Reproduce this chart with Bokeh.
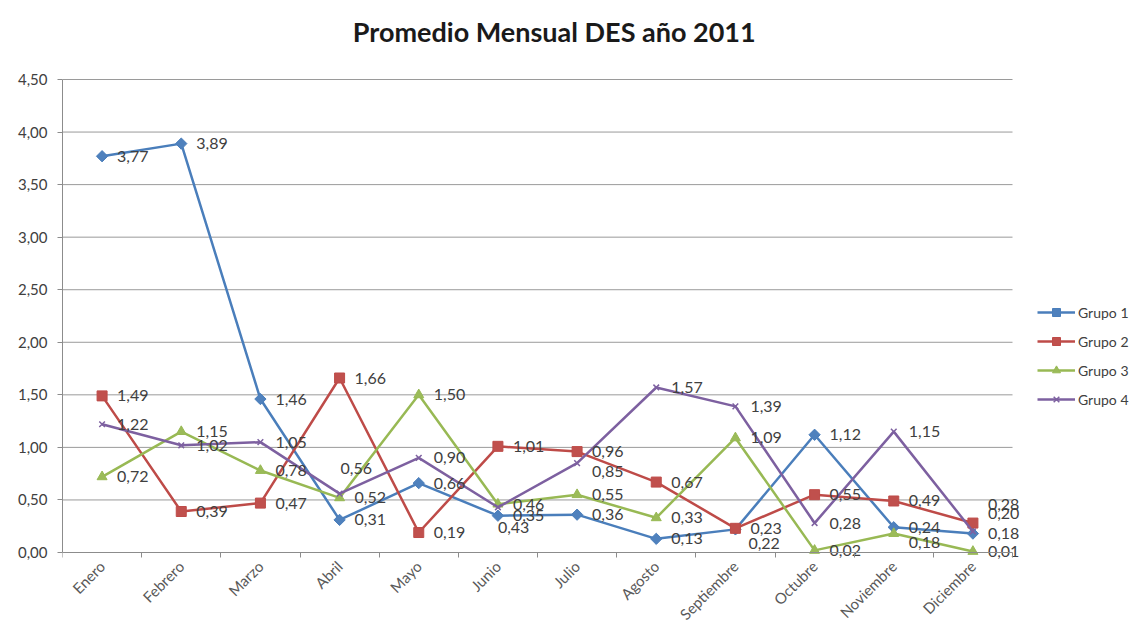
import numpy as np
from bokeh.plotting import figure
from bokeh.models import (Range1d, FixedTicker, CustomJSTickFormatter, Legend,
                          LegendItem, ColumnDataSource, Label)
from bokeh.core.properties import value
from bokeh.embed import file_html
from bokeh.resources import INLINE

# ---------------- data ----------------
meses = ["Enero", "Febrero", "Marzo", "Abril", "Mayo", "Junio", "Julio",
         "Agosto", "Septiembre", "Octubre", "Noviembre", "Diciembre"]
grupo1 = [3.77, 3.89, 1.46, 0.31, 0.66, 0.35, 0.36, 0.13, 0.22, 1.12, 0.24, 0.18]
grupo2 = [1.49, 0.39, 0.47, 1.66, 0.19, 1.01, 0.96, 0.67, 0.23, 0.55, 0.49, 0.28]
grupo3 = [0.72, 1.15, 0.78, 0.52, 1.50, 0.46, 0.55, 0.33, 1.09, 0.02, 0.18, 0.01]
grupo4 = [1.22, 1.02, 1.05, 0.56, 0.90, 0.43, 0.85, 1.57, 1.39, 0.28, 1.15, 0.20]
series_names = ["Grupo 1", "Grupo 2", "Grupo 3", "Grupo 4"]
y_ticks = [0.0, 0.5, 1.0, 1.5, 2.0, 2.5, 3.0, 3.5, 4.0, 4.5]
y_tick_labels = ["0,00", "0,50", "1,00", "1,50", "2,00", "2,50", "3,00",
                 "3,50", "4,00", "4,50"]
titulo = "Promedio  Mensual DES año 2011"

# ---------------- styles ----------------
line_colors = ["#4A7EBB", "#BE4B48", "#98B954", "#7D60A0"]
fill_colors = ["#4F81BD", "#C0504D", "#9BBB59", "#8064A2"]
markers = ["square", "square", "triangle", "x"]
marker_sizes = [8, 10, 10, 8]
marker_angles = [np.pi / 4, 0, 0, 0]
# label offsets (pixels) for overlapping labels: {series: {index: (dx, dy)}}
label_shift = {
    0: {8: (13, 14)},
    2: {10: (15, 9)},
    3: {3: (1, -25), 5: (0, 20), 6: (15, 8), 11: (15, -18)},
    1: {11: (15, -19)},
}
FONT = "Lato"
TXT = "#404040"
GRID = "#9a9a9a"

n = len(meses)
PLOT_W = 950            # pixel width of the category area
PLOT_H = 473            # pixel height of the value area (0 .. 4.5)
BOTTOM = 76             # pixels below the value area (month labels)
FRAME_W = 1135 - 62     # frame runs to the right edge (legend, labels)
FRAME_H = 628           # frame covers the full height (title, month labels)
y_per_px = y_ticks[-1] / PLOT_H
y_bottom = -BOTTOM * y_per_px
y_top = (FRAME_H - BOTTOM) * y_per_px

p = figure(frame_width=FRAME_W, frame_height=FRAME_H, width=1135, height=628,
           min_border_left=62, min_border_right=0, min_border_top=0,
           min_border_bottom=0, output_backend="svg", toolbar_location=None,
           x_range=Range1d(0, n * FRAME_W / PLOT_W),
           y_range=Range1d(y_bottom, y_top))
p.background_fill_color = "white"
p.border_fill_color = "white"
p.outline_line_color = None

# title as a label inside the (extended) frame
title_lbl = Label(x=n * (557 - 62) / PLOT_W, y=(552 - 31) * y_per_px,
                  text=titulo, text_font=FONT, text_font_style="bold",
                  text_font_size="27px", text_color="#1a1a1a",
                  text_align="center", text_baseline="middle")
p.add_layout(title_lbl)

# x axis (numeric index, labels at centers, ticks at boundaries), sits at y = 0
xs = [i + 0.5 for i in range(n)]
p.xaxis.fixed_location = y_ticks[0]
p.xaxis.ticker = FixedTicker(ticks=xs, minor_ticks=list(range(n + 1)))
p.xaxis.bounds = (0, n)
p.xaxis.formatter = CustomJSTickFormatter(args=dict(names=meses),
                                          code="return names[Math.round(tick - 0.5)];")
p.xaxis.major_label_orientation = np.pi / 4
p.xaxis.major_tick_out = 0
p.xaxis.major_tick_in = 0
p.xaxis.minor_tick_out = 5
p.xaxis.minor_tick_in = 0
p.xaxis.minor_tick_line_color = "#8c8c8c"
p.xaxis.axis_line_color = "#8c8c8c"
p.xaxis.major_label_text_font = FONT
p.xaxis.major_label_text_font_size = "15px"
p.xaxis.major_label_text_color = "#595959"
p.xaxis.major_label_standoff = 6
p.xgrid.visible = False

p.yaxis.ticker = FixedTicker(ticks=y_ticks, minor_ticks=[])
p.yaxis.bounds = (y_ticks[0], y_ticks[-1])
p.yaxis.formatter = CustomJSTickFormatter(args=dict(yvals=y_ticks, ylabs=y_tick_labels),
    code="for (let i = 0; i < yvals.length; i++) { if (Math.abs(yvals[i] - tick) < 1e-6) return ylabs[i]; } return '';")
p.yaxis.axis_line_color = "#8c8c8c"
p.yaxis.major_tick_line_color = "#8c8c8c"
p.yaxis.major_tick_out = 5
p.yaxis.major_tick_in = 0
p.yaxis.major_label_text_font = FONT
p.yaxis.major_label_text_font_size = "15px"
p.yaxis.major_label_text_color = TXT
p.yaxis.major_label_standoff = 10
p.ygrid.visible = False

# horizontal gridlines limited to the category area
grid_src = ColumnDataSource(dict(xs=[[0, n] for t in y_ticks[1:]],
                                 ys=[[t, t] for t in y_ticks[1:]]))
p.multi_line("xs", "ys", source=grid_src, line_color=GRID, line_width=1, level="underlay")

all_series = [grupo1, grupo2, grupo3, grupo4]
items = []
for k, vals in enumerate(all_series):
    src = ColumnDataSource(dict(x=xs, y=vals))
    ln = p.line("x", "y", source=src, line_color=line_colors[k], line_width=2.5)
    if markers[k] == "x":
        sc = p.scatter("x", "y", source=src, marker="x", size=marker_sizes[k],
                       line_color=line_colors[k], line_width=1.5)
    else:
        sc = p.scatter("x", "y", source=src, marker=markers[k], size=marker_sizes[k],
                       angle=marker_angles[k], fill_color=fill_colors[k],
                       line_color=line_colors[k], line_width=1)
    items.append(LegendItem(label=series_names[k], renderers=[ln, sc]))

for k, vals in enumerate(all_series):
    dx = [label_shift.get(k, {}).get(i, (15, 0))[0] for i in range(len(vals))]
    dy = [label_shift.get(k, {}).get(i, (15, 0))[1] for i in range(len(vals))]
    txt = [f"{v:.2f}".replace(".", ",") for v in vals]
    lsrc = ColumnDataSource(dict(x=xs, y=vals, t=txt, dx=dx, dy=dy))
    p.text("x", "y", text="t", source=lsrc, x_offset="dx", y_offset="dy",
           text_font=value(FONT), text_font_size="16px", text_color=TXT,
           text_align="left", text_baseline="middle")

legend = Legend(items=items, location=(975, 143 + BOTTOM))
legend.background_fill_alpha = 0
legend.border_line_color = None
legend.padding = 0
legend.margin = 0
legend.spacing = 9
legend.glyph_width = 38
legend.glyph_height = 20
legend.label_height = 20
legend.label_standoff = 3
legend.label_text_font = FONT
legend.label_text_font_size = "14px"
legend.label_text_color = TXT
p.add_layout(legend, "center")

open("out.html", "w").write(file_html(p, INLINE))
